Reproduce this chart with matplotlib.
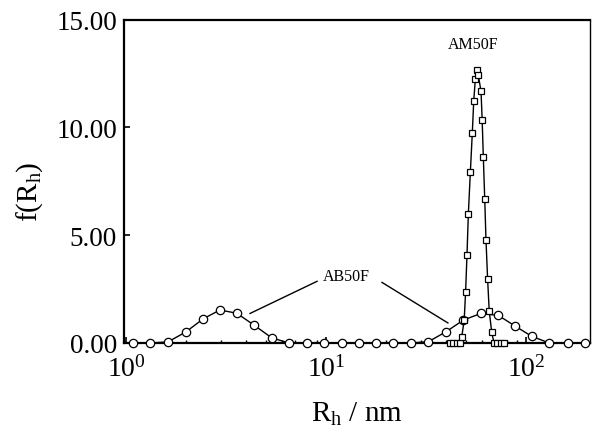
import matplotlib
matplotlib.use("Agg")
import matplotlib.pyplot as plt
from matplotlib.ticker import LogLocator, FixedLocator, FormatStrFormatter, NullFormatter

plt.rcParams['font.family'] = ['Liberation Serif', 'DejaVu Serif']
plt.rcParams['mathtext.fontset'] = 'custom'
plt.rcParams['mathtext.rm'] = 'Liberation Serif'
plt.rcParams['mathtext.it'] = 'Liberation Serif:italic'
plt.rcParams['mathtext.bf'] = 'Liberation Serif:bold'

# AB50F (circles)
ab_x = [1.08, 1.32, 1.62, 1.99, 2.44, 2.95, 3.58, 4.38, 5.35, 6.53, 8.01, 9.80,
        11.98, 14.67, 17.78, 21.70, 26.52, 32.48, 39.81, 48.6, 59.4, 72.7, 88.1,
        106.8, 130.8, 161.6, 197.2]
ab_y = [0.0, 0.0, 0.05, 0.51, 1.13, 1.53, 1.38, 0.82, 0.24, 0.0, 0.0, 0.0,
        0.0, 0.0, 0.0, 0.0, 0.0, 0.06, 0.52, 1.06, 1.37, 1.28, 0.79,
        0.31, 0.0, 0.0, 0.0]

# AM50F (squares)
am_x = [41.7, 43.4, 45.2, 47.0, 47.7, 49.1, 49.9, 50.7, 51.5, 52.7, 53.9, 54.8,
        55.8, 56.7, 57.7, 59.6, 60.4, 61.2, 62.2, 63.1, 64.3, 65.5, 67.4,
        69.2, 71.6, 74.6, 77.6]
am_y = [0.0, 0.0, 0.0, 0.0, 0.27, 1.06, 2.38, 4.08, 5.98, 7.92, 9.74, 11.23,
        12.22, 12.66, 12.44, 11.67, 10.32, 8.61, 6.67, 4.77, 2.95, 1.48, 0.5,
        0.0, 0.0, 0.0, 0.0]

y_ticks = [0, 5, 10, 15]
x_lim = (0.977, 209)
y_lim = (0, 15)

fig = plt.figure(figsize=(5.92, 4.27), dpi=100)
ax = fig.add_axes([124/592, 1-344/427, (590-124)/592, (344-20.5)/427])

ax.plot(ab_x, ab_y, '-', color='black', lw=1.0, marker='o', ms=6,
        mfc='white', mec='black', mew=0.9, zorder=3, clip_on=False)
ax.plot(am_x, am_y, '-', color='black', lw=1.0, marker='s', ms=5,
        mfc='white', mec='black', mew=0.9, zorder=4, clip_on=False)

ax.set_xscale('log')
ax.set_xlim(*x_lim)
ax.set_ylim(*y_lim)
ax.yaxis.set_major_locator(FixedLocator(y_ticks))
ax.yaxis.set_major_formatter(FormatStrFormatter('%.2f'))
ax.xaxis.set_major_locator(LogLocator(base=10))
ax.xaxis.set_minor_locator(LogLocator(base=10, subs=range(2, 10)))
ax.xaxis.set_minor_formatter(NullFormatter())

ax.tick_params(axis='both', which='major', direction='in', length=4.5, width=1.2,
               labelsize=19.5, pad=5)
ax.tick_params(axis='x', which='minor', direction='in', length=2.5, width=1.0)
ax.tick_params(axis='x', which='major', pad=9, labelsize=20)

for side in ['left', 'top', 'bottom']:
    ax.spines[side].set_linewidth(1.6)
ax.spines['right'].set_linewidth(1.0)

ax.set_xlabel('R$_\\mathrm{h}$ / nm', fontsize=21)
ax.set_ylabel('f(R$_\\mathrm{h}$)', fontsize=21)
ax.xaxis.set_label_coords(0.5, -0.175)
ax.yaxis.set_label_coords(-0.17, 0.47)

ax.text(54.3, 13.88, 'AM50F', fontsize=11.5, ha='center', va='center')
ax.text(12.7, 3.09, 'AB50F', fontsize=11.5, ha='center', va='center')
ax.plot([9.02, 4.17], [2.86, 1.37], color='black', lw=1.0)
ax.plot([19.05, 40.7], [2.81, 0.93], color='black', lw=1.0)

fig.savefig('out.png', dpi=100)
